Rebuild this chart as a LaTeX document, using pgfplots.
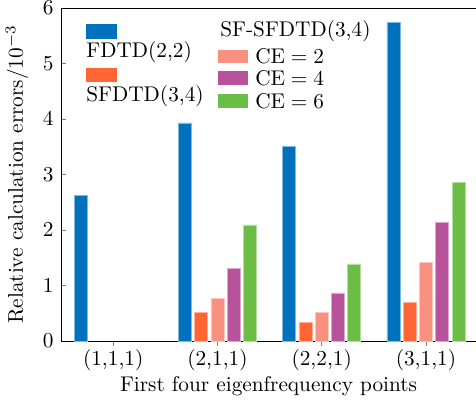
\documentclass[border=0pt]{standalone}
\usepackage{pgfplots}
\pgfplotsset{compat=1.18}
\usetikzlibrary{calc}
\definecolor{cB}{RGB}{0,114,189}
\definecolor{cO}{RGB}{255,102,51}
\definecolor{cP}{RGB}{248,145,128}
\definecolor{cM}{RGB}{184,82,155}
\definecolor{cG}{RGB}{107,189,69}
\begin{document}
\begin{tikzpicture}
\begin{axis}[
  scale only axis,
  width=195pt, height=156.5pt,
  axis y line=left, axis x line=box,
  axis line style={-},
  xmin=0.5, xmax=4.48,
  ymin=0, ymax=6,
  ytick={0,1,2,3,4,5,6},
  xtick={1,2,3,4},
  xticklabels={{(1,1,1)},{(2,1,1)},{(2,2,1)},{(3,1,1)}},
  xtick pos=bottom,
  tick align=inside,
  major tick length=2.5pt,
  xticklabel style={yshift=2pt},
  xlabel={First four eigenfrequency points},
  xlabel style={yshift=4pt},
  ylabel={Relative calculation errors/$10^{-3}$},
  ybar, bar width=6.1pt,
  clip=false,
]
\addplot[fill=cB, draw=cB!50!white, line width=0.3pt, bar shift=-15.3pt] coordinates {(1,2.62) (2,3.93) (3,3.50) (4,5.735)};
\addplot[fill=cO, draw=cO!50!white, line width=0.3pt, bar shift=-7.65pt] coordinates {(2,0.517) (3,0.337) (4,0.70)};
\addplot[fill=cP, draw=cP!50!white, line width=0.3pt, bar shift=0pt] coordinates {(2,0.77) (3,0.517) (4,1.42)};
\addplot[fill=cM, draw=cM!50!white, line width=0.3pt, bar shift=7.65pt] coordinates {(2,1.30) (3,0.865) (4,2.14)};
\addplot[fill=cG, draw=cG!50!white, line width=0.3pt, bar shift=15.3pt] coordinates {(2,2.09) (3,1.39) (4,2.86)};
% legend
\fill[cB] (rel axis cs:0.060,0.907) rectangle (rel axis cs:0.135,0.952);
\node[anchor=west, inner sep=0pt] at (rel axis cs:0.060,0.868) {FDTD(2,2)};
\fill[cO] (rel axis cs:0.060,0.778) rectangle (rel axis cs:0.135,0.820);
\node[anchor=west, inner sep=0pt] at (rel axis cs:0.060,0.736) {SFDTD(3,4)};
\node[anchor=west, inner sep=0pt] at (rel axis cs:0.383,0.931) {SF-SFDTD(3,4)};
\fill[cP] (rel axis cs:0.378,0.835) rectangle (rel axis cs:0.451,0.874);
\node[anchor=west, inner sep=0pt] at (rel axis cs:0.467,0.854) {$\mathrm{CE}=2$};
\fill[cM] (rel axis cs:0.378,0.769) rectangle (rel axis cs:0.451,0.811);
\node[anchor=west, inner sep=0pt] at (rel axis cs:0.467,0.790) {$\mathrm{CE}=4$};
\fill[cG] (rel axis cs:0.378,0.700) rectangle (rel axis cs:0.451,0.742);
\node[anchor=west, inner sep=0pt] at (rel axis cs:0.467,0.721) {$\mathrm{CE}=6$};
\coordinate (SW) at (rel axis cs:0,0);
\coordinate (NE) at (rel axis cs:1,1);
\end{axis}
\pgfresetboundingbox
\useasboundingbox ($(SW)+(-28.7pt,-29.1pt)$) rectangle ($(NE)+(0pt,3.75pt)$);
\end{tikzpicture}
\end{document}
